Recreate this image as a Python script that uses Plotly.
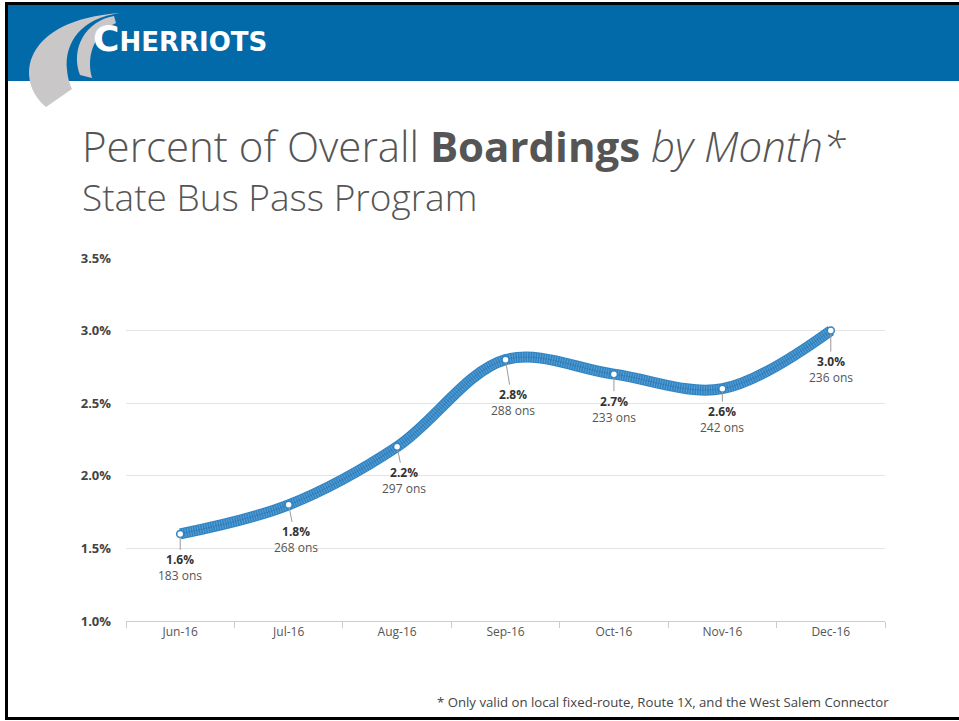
import plotly.graph_objects as go

# Monthly share of overall boardings for the State Bus Pass Program
months = ["Jun-16", "Jul-16", "Aug-16", "Sep-16", "Oct-16", "Nov-16", "Dec-16"]
pct_boardings = [1.6, 1.8, 2.2, 2.8, 2.7, 2.6, 3.0]
boardings = [183, 268, 297, 288, 233, 242, 236]
y_ticks = [1.0, 1.5, 2.0, 2.5, 3.0, 3.5]

# label offsets (pixels) from each point to its callout text
label_dx = [0, 7, 7, 7, 0, 0, 0]
label_dy = [34, 35, 34, 43, 35, 31, 39]

W, H = 959, 721
ML, MR, MT, MB = 126, 74, 258, 100
PW, PH = W - ML - MR, H - MT - MB


def px(x):
    return (x - ML) / PW


def py(y):
    return (H - MB - y) / PH


def path(cmds):
    out = []
    for c in cmds:
        if isinstance(c, str):
            out.append(c)
        else:
            out.append(f"{px(c[0]):.5f},{py(c[1]):.5f}")
    return " ".join(out)


BLUE = "#2f84c4"
fig = go.Figure()

fig.add_trace(go.Scatter(
    x=months, y=pct_boardings, mode="lines",
    line=dict(color=BLUE, width=11, shape="spline", smoothing=1.0),
    hoverinfo="skip",
))
# fine woven texture on the ribbon
fig.add_trace(go.Scatter(
    x=months, y=pct_boardings, mode="lines",
    line=dict(color="rgba(255,255,255,0.22)", width=9, shape="spline",
              smoothing=1.0, dash="1px,1.5px"),
    hoverinfo="skip",
))
fig.add_trace(go.Scatter(
    x=months, y=pct_boardings, mode="lines",
    line=dict(color="rgba(20,80,140,0.25)", width=1, shape="spline",
              smoothing=1.0),
    hoverinfo="skip",
))
fig.add_trace(go.Scatter(
    x=months, y=pct_boardings, mode="markers",
    marker=dict(size=7, color="white", line=dict(color=BLUE, width=1.5)),
    hoverinfo="skip",
))

annotations = []
for m, v, n, dx, dy in zip(months, pct_boardings, boardings, label_dx, label_dy):
    annotations.append(dict(
        x=m, y=v, xref="x", yref="y",
        text=f"<b><span style='color:#333'>{v:.1f}%</span></b><br>{n} ons",
        showarrow=True, arrowhead=0, arrowwidth=1, arrowcolor="#9a9a9a",
        ax=dx, ay=dy, standoff=3,
        font=dict(family="Open Sans", size=12, color="#555"),
        align="center",
    ))

# headings and footnote
annotations += [
    dict(xref="paper", yref="paper", x=px(80), y=py(145), xanchor="left",
         yanchor="middle", showarrow=False,
         text="Percent of Overall <b>Boardings</b> <i>by Month*</i>",
         font=dict(family="Open Sans", size=42, color="#555", weight=300)),
    dict(xref="paper", yref="paper", x=px(80), y=py(196), xanchor="left",
         yanchor="middle", showarrow=False,
         text="State Bus Pass Program",
         font=dict(family="Open Sans", size=37, color="#555", weight=300)),
    dict(xref="paper", yref="paper", x=px(891), y=py(702), xanchor="right",
         yanchor="middle", showarrow=False,
         text="* Only valid on local fixed-route, Route 1X, and the West Salem Connector",
         font=dict(family="Open Sans", size=13.2, color="#444")),
    dict(xref="paper", yref="paper", x=px(91), y=py(38), xanchor="left",
         yanchor="middle", showarrow=False,
         text="<b><span style='font-size:36px'>C</span>HERRIOTS</b>",
         font=dict(family="DejaVu Sans", size=26, color="white")),
]

shapes = [
    # header band
    dict(type="rect", xref="paper", yref="paper", x0=px(7), x1=px(W),
         y0=py(81), y1=py(5), fillcolor="#036aa9", line=dict(width=0),
         layer="below"),
    # logo swooshes
    dict(type="path", xref="paper", yref="paper",
         path=path(["M", (120, 13), "C", (82, 18), (64, 42), (67, 70),
                    "Q", (68, 81), (72, 89), "L", (46, 107),
                    "C", (14, 80), (22, 20), (120, 13), "Z"]),
         fillcolor="#c9c7c7", line=dict(width=0)),
    dict(type="path", xref="paper", yref="paper",
         path=path(["M", (114, 16), "C", (86, 21), (70, 48), (80, 75),
                    "L", (92, 78), "C", (86, 56), (94, 33), (116, 23), "Z"]),
         fillcolor="#c9c7c7", line=dict(width=0)),
    # frame lines
    dict(type="line", xref="paper", yref="paper", x0=px(5), x1=px(W),
         y0=py(3.5), y1=py(3.5), line=dict(color="black", width=3)),
    dict(type="line", xref="paper", yref="paper", x0=px(6.5), x1=px(6.5),
         y0=py(2), y1=py(720), line=dict(color="black", width=3)),
    dict(type="line", xref="paper", yref="paper", x0=px(5), x1=px(W),
         y0=py(718.5), y1=py(718.5), line=dict(color="black", width=3)),
]

fig.update_layout(
    width=W, height=H,
    margin=dict(l=ML, r=MR, t=MT, b=MB),
    paper_bgcolor="white", plot_bgcolor="white",
    showlegend=False,
    annotations=annotations, shapes=shapes,
    xaxis=dict(
        type="category", range=[-0.5, 6.5],
        showline=True, linecolor="#cccccc", linewidth=1,
        ticks="outside", tickson="boundaries", ticklen=6, tickcolor="#cccccc",
        showgrid=False, zeroline=False,
        tickfont=dict(family="Open Sans", size=12, color="#555"),
    ),
    yaxis=dict(
        range=[1.0, 3.5], tickvals=y_ticks,
        ticktext=[f"{t:.1f}%" for t in y_ticks],
        showgrid=True, gridcolor="#e4e4e4", gridwidth=1,
        zeroline=False, showline=False, ticks="",
        ticklabelstandoff=14,
        tickfont=dict(family="Open Sans", size=13, color="#444", weight="bold"),
    ),
)

fig.write_html("out.html")
